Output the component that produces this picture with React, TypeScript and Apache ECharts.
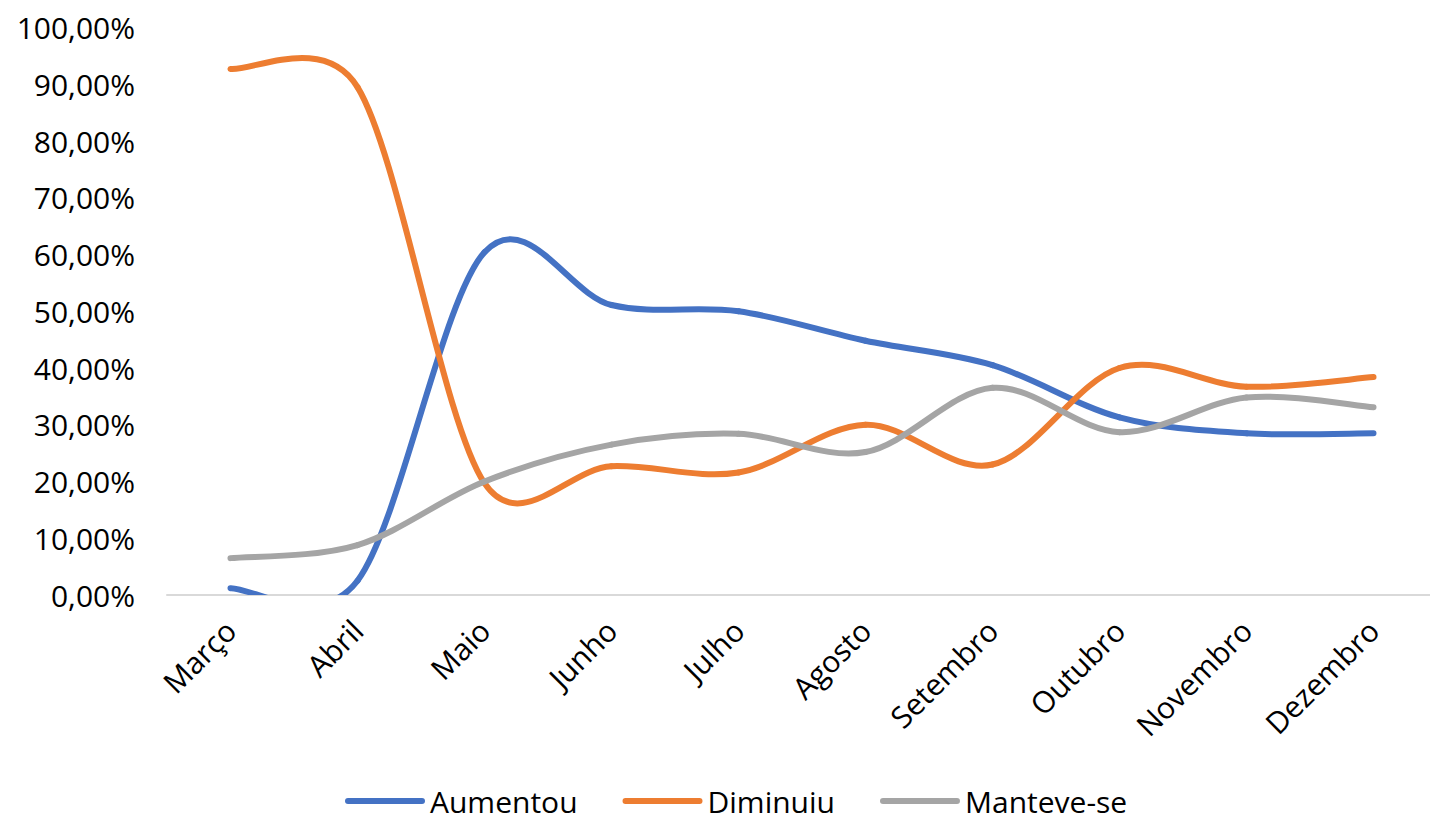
import React, { useEffect, useRef } from "react";
import * as echarts from "echarts";

const categories = ["Março", "Abril", "Maio", "Junho", "Julho", "Agosto", "Setembro", "Outubro", "Novembro", "Dezembro"];
const aumentou = [1.2, 2.5, 60.4, 51.1, 50.0, 44.8, 40.5, 31.3, 28.5, 28.5];
const diminuiu = [92.7, 89.5, 19.7, 22.7, 21.6, 30.0, 23.0, 40.0, 36.7, 38.4];
const manteveSe = [6.5, 8.8, 20.0, 26.5, 28.4, 25.2, 36.5, 28.7, 34.8, 33.1];
const seriesNames = ["Aumentou", "Diminuiu", "Manteve-se"];
const yTicks = { min: 0, max: 100, interval: 10 };

const FONT = "'Open Sans', sans-serif";
const LEGEND_ICON = "path://M3,0L77,0A3,3,0,0,1,77,6L3,6A3,3,0,0,1,3,0Z";

// Excel-like smoothed line: Catmull-Rom (1/6) bezier segments, control arm capped at half the segment length
function makeRender(vals: number[], color: string) {
  return (params: any, api: any) => {
    const i = params.dataIndex;
    const n = vals.length;
    if (i >= n - 1) return null;
    const P = (k: number) => {
      const kk = Math.max(0, Math.min(n - 1, k));
      return api.coord([kk, vals[kk]]);
    };
    const p0 = P(i - 1), p1 = P(i), p2 = P(i + 1), p3 = P(i + 2);
    const seg = Math.hypot(p2[0] - p1[0], p2[1] - p1[1]);
    const cap = (t: number[], max: number) => {
      const l = Math.hypot(t[0], t[1]);
      if (l > max && l > 0) {
        const s = max / l;
        return [t[0] * s, t[1] * s];
      }
      return t;
    };
    const t1 = cap([(p2[0] - p0[0]) / 6, (p2[1] - p0[1]) / 6], seg * 0.5);
    const t2 = cap([(p3[0] - p1[0]) / 6, (p3[1] - p1[1]) / 6], seg * 0.5);
    return {
      type: "bezierCurve",
      shape: {
        x1: p1[0], y1: p1[1],
        x2: p2[0], y2: p2[1],
        cpx1: p1[0] + t1[0], cpy1: p1[1] + t1[1],
        cpx2: p2[0] - t2[0], cpy2: p2[1] - t2[1],
      },
      style: { stroke: color, lineWidth: 6, fill: null, lineCap: "round" },
    };
  };
}

export default function App() {
  const ref = useRef<HTMLDivElement>(null);
  useEffect(() => {
    if (!ref.current) return;
    const chart = echarts.init(ref.current, undefined, { renderer: "svg" });
    const mk = (name: string, vals: number[], color: string) => ({
      name,
      type: "custom",
      clip: true,
      data: vals.map((v, i) => [i, v]),
      encode: { x: 0, y: 1 },
      itemStyle: { color },
      renderItem: makeRender(vals, color),
    });
    chart.setOption({
      animation: false,
      textStyle: { fontFamily: FONT },
      grid: { left: 167, right: -7, top: 27.5, bottom: 229, containLabel: false, outerBoundsMode: "none" },
      xAxis: {
        type: "category",
        data: categories,
        boundaryGap: true,
        axisLine: { show: true, lineStyle: { color: "#D9D9D9", width: 2 } },
        axisTick: { show: false },
        splitLine: { show: false },
        axisLabel: { rotate: 45, margin: 30, fontSize: 30, color: "#000", fontFamily: FONT, interval: 0 },
      },
      yAxis: {
        type: "value",
        min: yTicks.min,
        max: yTicks.max,
        interval: yTicks.interval,
        axisLine: { show: false },
        axisTick: { show: false },
        splitLine: { show: false },
        axisLabel: {
          margin: 32,
          fontSize: 30,
          color: "#000",
          fontFamily: FONT,
          formatter: (v: number) => v.toFixed(2).replace(".", ",") + "%",
        },
      },
      legend: {
        top: 786,
        left: 345,
        padding: 0,
        itemWidth: 80,
        itemHeight: 6,
        itemGap: 45,
        textStyle: { fontSize: 30, lineHeight: 30, color: "#000", fontFamily: FONT },
        data: seriesNames.map((name) => ({ name, icon: LEGEND_ICON })),
      },
      series: [
        mk(seriesNames[0], aumentou, "#4472C4"),
        mk(seriesNames[1], diminuiu, "#ED7D31"),
        mk(seriesNames[2], manteveSe, "#A5A5A5"),
      ],
    });
    return () => chart.dispose();
  }, []);
  return (
    <div
      ref={ref}
      style={{ position: "absolute", left: 0, top: 0, width: 1430, height: 824, background: "#fff" }}
    />
  );
}
